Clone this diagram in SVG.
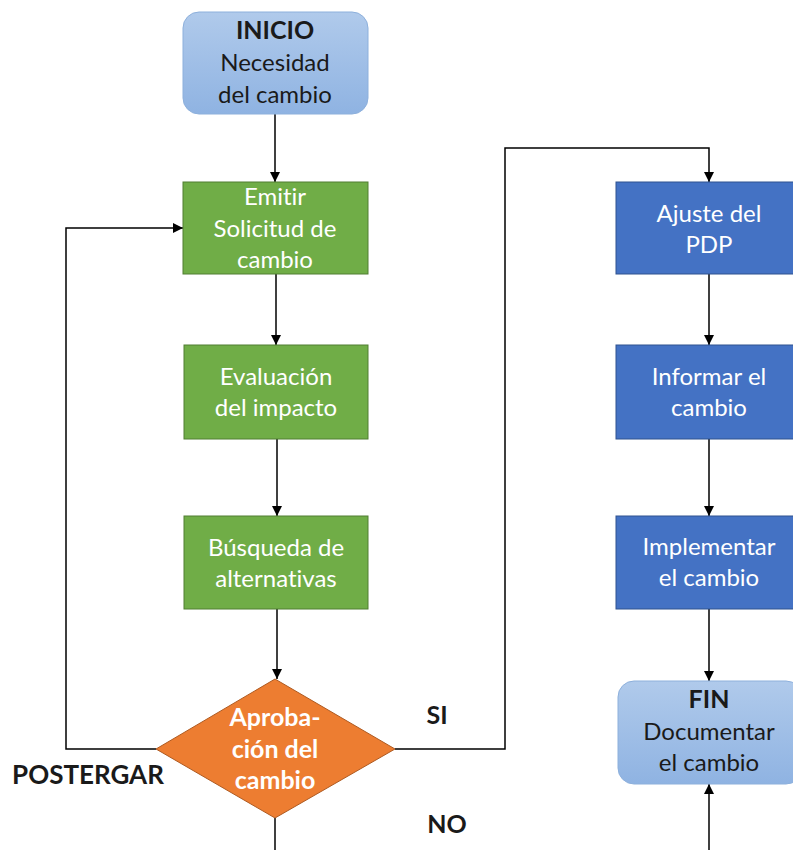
<svg xmlns="http://www.w3.org/2000/svg" width="793" height="850" viewBox="0 0 793 850">
  <defs>
    <linearGradient id="gBlue" x1="0" y1="0" x2="0" y2="1">
      <stop offset="0" stop-color="#b0caeb"/>
      <stop offset="1" stop-color="#8fb3e2"/>
    </linearGradient>
    <marker id="arr" viewBox="0 0 10 10" refX="10" refY="5" markerWidth="10" markerHeight="10" markerUnits="userSpaceOnUse" orient="auto">
      <path d="M0,0 L10,5 L0,10 Z" fill="#000"/>
    </marker>
  </defs>
  <style>
    text { font-family: Lato, "Liberation Sans", sans-serif; font-size: 24px; text-anchor: middle; font-variant-ligatures: none; }
    .w { fill: #ffffff; }
    .k { fill: #1a1a1a; }
    .b { font-weight: bold; font-size: 25px; }
    .pg { font-size: 26px; }
    .term { fill: url(#gBlue); stroke: #8db0dc; stroke-width: 1; }
    .green { fill: #70ad47; stroke: #507e32; stroke-width: 1; }
    .blue { fill: #4472c4; stroke: #2f528f; stroke-width: 1; }
    .orange { fill: #ed7d31; stroke: #ae5a21; stroke-width: 1; }
    .conn { fill: none; stroke: #000; stroke-width: 1.5; }
  </style>

  <g id="connectors">
    <path class="conn" d="M275,114 L275,182" marker-end="url(#arr)"/>
    <path class="conn" d="M276,274 L276,345" marker-end="url(#arr)"/>
    <path class="conn" d="M277,439 L277,516" marker-end="url(#arr)"/>
    <path class="conn" d="M277,609 L277,679" marker-end="url(#arr)"/>
    <path class="conn" d="M275,818 L275,850"/>
    <path class="conn" d="M156,749 L66,749 L66,228 L183,228" marker-end="url(#arr)"/>
    <path class="conn" d="M395,749 L505,749 L505,148 L709,148 L709,182" marker-end="url(#arr)"/>
    <path class="conn" d="M709,274 L709,345" marker-end="url(#arr)"/>
    <path class="conn" d="M709,439 L709,516" marker-end="url(#arr)"/>
    <path class="conn" d="M709,609 L709,681" marker-end="url(#arr)"/>
    <path class="conn" d="M709,850 L709,784" marker-end="url(#arr)"/>
  </g>

  <g id="inicio">
    <rect class="term" x="183" y="12" width="185" height="102" rx="16"/>
    <text class="k b" x="275" y="39">INICIO</text>
    <text class="k" x="275" y="71">Necesidad</text>
    <text class="k" x="275" y="103">del cambio</text>
  </g>

  <g id="emitir">
    <rect class="green" x="183" y="182" width="185" height="92"/>
    <text class="w" x="275" y="205">Emitir</text>
    <text class="w" x="275" y="237">Solicitud de</text>
    <text class="w" x="275" y="268">cambio</text>
  </g>

  <g id="evaluacion">
    <rect class="green" x="184" y="345" width="184" height="94"/>
    <text class="w" x="276" y="385">Evaluación</text>
    <text class="w" x="276" y="416">del impacto</text>
  </g>

  <g id="busqueda">
    <rect class="green" x="184" y="516" width="184" height="93"/>
    <text class="w" x="276" y="556">Búsqueda de</text>
    <text class="w" x="276" y="587">alternativas</text>
  </g>

  <g id="aprobacion">
    <polygon class="orange" points="275,679 395,749 275,818 156,749"/>
    <text class="w b" x="275" y="726">Aproba-</text>
    <text class="w b" x="275" y="758">ción del</text>
    <text class="w b" x="275" y="789">cambio</text>
  </g>

  <g id="ajuste">
    <rect class="blue" x="616" y="182" width="186" height="92"/>
    <text class="w" x="709" y="222">Ajuste del</text>
    <text class="w" x="709" y="253">PDP</text>
  </g>

  <g id="informar">
    <rect class="blue" x="616" y="345" width="186" height="94"/>
    <text class="w" x="709" y="385">Informar el</text>
    <text class="w" x="709" y="416">cambio</text>
  </g>

  <g id="implementar">
    <rect class="blue" x="616" y="516" width="186" height="93"/>
    <text class="w" x="709" y="555">Implementar</text>
    <text class="w" x="709" y="586">el cambio</text>
  </g>

  <g id="fin">
    <rect class="term" x="618" y="681" width="184" height="103" rx="16"/>
    <text class="k b" x="709" y="708">FIN</text>
    <text class="k" x="709" y="740">Documentar</text>
    <text class="k" x="709" y="771">el cambio</text>
  </g>

  <g id="labels">
    <text class="k b" x="437" y="724">SI</text>
    <text class="k b" x="447" y="833">NO</text>
    <text class="k b pg" x="88" y="784">POSTERGAR</text>
  </g>
</svg>
